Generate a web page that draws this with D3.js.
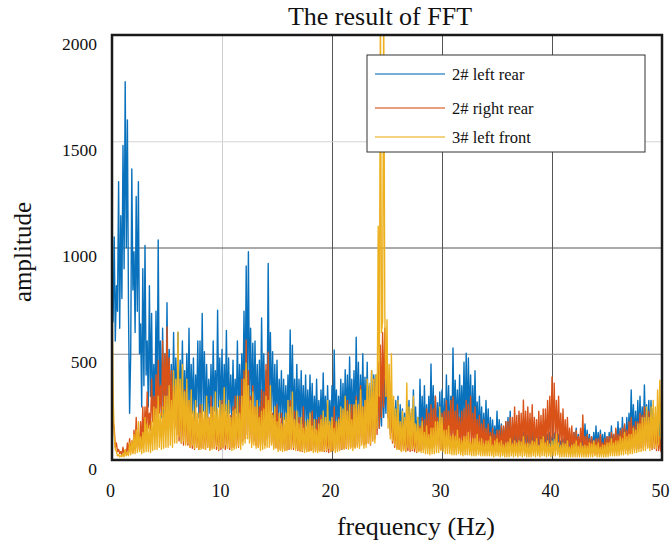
<!DOCTYPE html>
<html>
<head>
<meta charset="utf-8">
<script src="https://cdn.jsdelivr.net/npm/d3@7"></script>
<style>
  html, body { margin: 0; padding: 0; background: #fff; }
  svg text { font-family: "Liberation Serif", "Times New Roman", "DejaVu Serif", serif; fill: #111; }
</style>
</head>
<body>
<svg id="chart" width="671" height="546"></svg>
<script>
// ---------------- data ----------------
const title = "The result of FFT";
const xLabel = "frequency (Hz)";
const yLabel = "amplitude";
const seriesNames = ["2# left rear", "2# right rear", "3# left front"];
const xTicks = [0, 10, 20, 30, 40, 50];
const yTicks = [0, 500, 1000, 1500, 2000];
const freqStep = 0.1; // Hz between samples, 0 .. 50 Hz (one row = 1 Hz)

const leftRear = [
  900, 650, 1050, 560, 820, 700, 1310, 620, 1150, 760,
  1480, 900, 1780, 1000, 1600, 700, 220, 500, 1370, 800,
  980, 600, 1240, 700, 1310, 500, 640, 250, 900, 350,
  1010, 400, 560, 250, 820, 300, 690, 200, 450, 220,
  700, 250, 1035, 300, 560, 200, 620, 180, 500, 200,
  740, 220, 520, 180, 450, 200, 600, 230, 480, 190,
  600, 200, 470, 250, 560, 180, 420, 230, 500, 200,
  620, 180, 450, 220, 480, 170, 400, 250, 560, 200,
  560, 200, 690, 230, 510, 180, 450, 200, 380, 220,
  450, 180, 560, 230, 420, 200, 705, 250, 480, 200,
  520, 200, 450, 230, 610, 180, 480, 220, 400, 180,
  470, 200, 380, 220, 560, 200, 450, 230, 500, 250,
  700, 250, 913, 300, 980, 280, 620, 230, 550, 220,
  560, 200, 450, 180, 470, 210, 668, 250, 500, 200,
  420, 250, 925, 280, 600, 230, 510, 200, 450, 180,
  470, 180, 380, 200, 420, 160, 380, 190, 350, 170,
  400, 180, 612, 200, 540, 170, 380, 150, 450, 180,
  380, 150, 420, 170, 350, 140, 400, 160, 330, 150,
  400, 160, 360, 140, 300, 150, 380, 130, 280, 150,
  330, 140, 410, 160, 300, 130, 350, 150, 280, 140,
  350, 130, 518, 160, 330, 140, 300, 150, 380, 160,
  360, 150, 425, 180, 400, 160, 485, 190, 380, 170,
  420, 180, 578, 200, 460, 170, 400, 190, 500, 180,
  390, 170, 460, 160, 350, 180, 420, 150, 400, 170,
  400, 180, 350, 150, 300, 160, 420, 200, 380, 220,
  485, 200, 380, 150, 300, 130, 250, 110, 280, 120,
  300, 100, 260, 110, 240, 90, 220, 100, 260, 110,
  280, 100, 220, 90, 330, 110, 250, 100, 200, 90,
  380, 120, 300, 100, 350, 130, 260, 110, 300, 120,
  452, 140, 350, 120, 300, 110, 270, 130, 320, 120,
  330, 120, 290, 110, 400, 130, 350, 120, 300, 140,
  527, 160, 376, 150, 330, 140, 400, 160, 350, 150,
  460, 160, 503, 150, 480, 170, 400, 140, 350, 130,
  420, 140, 273, 120, 300, 110, 250, 100, 220, 90,
  280, 90, 240, 80, 200, 70, 188, 80, 160, 70,
  230, 70, 190, 60, 170, 70, 150, 60, 180, 60,
  200, 60, 230, 60, 150, 50, 120, 50, 140, 60,
  210, 60, 160, 50, 130, 50, 170, 60, 120, 50,
  190, 60, 150, 50, 120, 50, 140, 60, 110, 50,
  160, 50, 140, 50, 150, 60, 120, 50, 130, 50,
  110, 45, 127, 50, 100, 45, 120, 50, 90, 40,
  100, 40, 127, 50, 110, 45, 120, 50, 100, 45,
  130, 50, 150, 55, 120, 45, 110, 50, 120, 50,
  170, 60, 140, 55, 120, 50, 110, 45, 130, 50,
  160, 55, 130, 50, 140, 60, 120, 50, 130, 55,
  110, 45, 130, 50, 160, 60, 120, 50, 140, 60,
  180, 70, 150, 60, 200, 80, 160, 70, 200, 80,
  220, 90, 330, 120, 260, 100, 230, 90, 280, 110,
  300, 110, 250, 100, 353, 130, 260, 100, 280, 110,
  280, 100, 240, 90, 200, 80, 170, 70, 200, 80,
  150
];

const rightRear = [
  450, 180, 150, 60, 80, 40, 50, 30, 40, 25,
  60, 30, 45, 25, 80, 35, 100, 40, 90, 35,
  140, 50, 200, 60, 130, 50, 180, 60, 250, 80,
  250, 120, 320, 150, 220, 140, 380, 180, 300, 170,
  400, 200, 470, 220, 350, 210, 560, 240, 500, 220,
  626, 250, 480, 220, 420, 200, 350, 150, 300, 120,
  380, 90, 320, 80, 280, 70, 330, 80, 250, 70,
  280, 60, 240, 55, 200, 50, 220, 60, 170, 50,
  260, 60, 220, 55, 190, 50, 240, 60, 200, 50,
  300, 60, 240, 55, 200, 50, 160, 45, 200, 50,
  280, 60, 220, 50, 190, 55, 220, 50, 210, 60,
  250, 60, 300, 70, 200, 60, 300, 80, 380, 90,
  420, 100, 565, 120, 420, 100, 300, 80, 350, 90,
  250, 70, 280, 60, 250, 70, 330, 80, 320, 70,
  450, 100, 508, 110, 300, 80, 220, 60, 240, 60,
  260, 55, 200, 50, 220, 50, 170, 45, 200, 50,
  220, 50, 280, 55, 190, 50, 230, 55, 170, 45,
  200, 45, 150, 40, 250, 50, 150, 40, 180, 45,
  190, 45, 230, 50, 150, 40, 190, 45, 200, 45,
  210, 45, 150, 40, 180, 40, 130, 35, 160, 40,
  190, 45, 250, 55, 180, 45, 200, 50, 190, 50,
  230, 55, 220, 55, 280, 60, 240, 60, 260, 65,
  250, 60, 300, 70, 240, 65, 350, 80, 250, 70,
  280, 75, 330, 80, 260, 70, 320, 90, 380, 100,
  350, 120, 460, 150, 540, 200, 600, 250, 620, 300,
  540, 200, 380, 120, 250, 80, 180, 60, 170, 55,
  200, 50, 140, 45, 170, 45, 130, 40, 150, 45,
  150, 40, 180, 45, 130, 40, 120, 35, 160, 45,
  160, 45, 200, 50, 190, 55, 240, 60, 220, 55,
  260, 60, 240, 60, 300, 70, 200, 55, 190, 50,
  220, 55, 230, 60, 280, 65, 230, 60, 280, 70,
  297, 70, 230, 60, 260, 65, 200, 55, 230, 60,
  240, 60, 280, 65, 260, 60, 300, 70, 220, 55,
  250, 60, 190, 50, 210, 55, 170, 45, 190, 50,
  150, 45, 170, 45, 130, 40, 150, 45, 120, 40,
  140, 40, 140, 40, 160, 45, 160, 50, 180, 50,
  180, 50, 200, 55, 200, 55, 250, 60, 210, 55,
  230, 60, 220, 55, 282, 70, 230, 60, 250, 65,
  220, 60, 260, 65, 200, 55, 190, 50, 230, 60,
  210, 55, 240, 60, 240, 65, 280, 70, 300, 80,
  391, 100, 362, 90, 280, 80, 300, 75, 220, 60,
  240, 60, 190, 50, 200, 50, 150, 45, 160, 45,
  130, 40, 140, 40, 110, 35, 150, 40, 212, 50,
  110, 35, 120, 35, 100, 30, 110, 35, 90, 30,
  100, 30, 100, 30, 120, 35, 80, 30, 100, 30,
  110, 35, 110, 35, 130, 40, 120, 40, 150, 45,
  120, 40, 140, 45, 150, 45, 170, 50, 140, 45,
  180, 50, 200, 55, 160, 50, 180, 50, 180, 55,
  220, 60, 210, 55, 250, 65, 210, 60, 230, 60,
  180, 50, 200, 55, 150, 45, 170, 45, 110, 40,
  120
];

const leftFront = [
  850, 300, 120, 50, 40, 20, 25, 15, 20, 15,
  30, 15, 50, 20, 35, 20, 80, 25, 90, 30,
  120, 30, 140, 35, 180, 40, 110, 30, 130, 35,
  200, 40, 170, 40, 160, 35, 180, 45, 250, 50,
  240, 50, 300, 60, 220, 50, 250, 55, 300, 60,
  300, 60, 350, 70, 280, 60, 420, 80, 380, 80,
  602, 110, 380, 80, 450, 90, 320, 70, 380, 80,
  280, 60, 330, 70, 230, 55, 280, 60, 220, 50,
  220, 50, 260, 55, 230, 50, 300, 60, 200, 45,
  250, 50, 250, 55, 320, 65, 240, 50, 280, 60,
  260, 55, 340, 70, 260, 55, 280, 60, 200, 45,
  230, 50, 240, 55, 300, 65, 220, 50, 300, 70,
  380, 80, 456, 100, 350, 80, 280, 60, 320, 70,
  250, 55, 280, 60, 200, 45, 230, 50, 240, 55,
  300, 60, 280, 60, 350, 70, 210, 50, 250, 55,
  180, 40, 220, 45, 170, 40, 200, 45, 220, 45,
  280, 55, 250, 50, 320, 60, 190, 45, 230, 50,
  170, 40, 200, 45, 150, 35, 180, 40, 190, 40,
  220, 45, 160, 35, 190, 40, 140, 35, 170, 40,
  190, 40, 230, 45, 200, 45, 280, 55, 180, 40,
  200, 45, 150, 35, 180, 40, 190, 45, 250, 55,
  240, 50, 300, 60, 230, 50, 260, 55, 190, 45,
  260, 55, 280, 60, 260, 55, 330, 70, 250, 55,
  280, 60, 380, 80, 360, 75, 420, 90, 380, 80,
  400, 150, 1100, 300, 2150, 600, 650, 2150, 700, 300,
  660, 150, 450, 100, 500, 90, 300, 70, 240, 50,
  280, 50, 180, 40, 230, 45, 200, 40, 362, 60,
  250, 50, 240, 50, 300, 55, 170, 40, 200, 40,
  150, 35, 180, 35, 130, 30, 160, 30, 120, 25,
  150, 30, 150, 30, 180, 35, 180, 35, 250, 45,
  200, 40, 140, 30, 140, 30, 160, 30, 110, 25,
  120, 25, 110, 25, 140, 30, 100, 25, 90, 20,
  110, 25, 110, 25, 130, 25, 85, 20, 100, 20,
  100, 20, 120, 25, 85, 20, 100, 20, 75, 20,
  90, 20, 90, 20, 110, 20, 70, 15, 90, 20,
  100, 20, 80, 15, 90, 20, 70, 15, 80, 15,
  85, 15, 100, 20, 75, 15, 90, 20, 80, 15,
  90, 20, 85, 15, 110, 20, 75, 15, 80, 15,
  75, 15, 90, 20, 85, 15, 100, 20, 70, 15,
  95, 20, 110, 20, 80, 15, 90, 20, 75, 15,
  90, 20, 95, 20, 120, 25, 80, 15, 70, 15,
  80, 15, 75, 15, 90, 15, 60, 15, 70, 15,
  75, 15, 90, 15, 65, 15, 80, 15, 65, 15,
  70, 15, 65, 15, 80, 15, 75, 15, 90, 20,
  70, 15, 80, 15, 60, 15, 70, 15, 70, 15,
  80, 15, 80, 20, 100, 20, 80, 20, 90, 20,
  90, 20, 110, 25, 100, 25, 130, 30, 110, 25,
  120, 30, 120, 30, 150, 35, 140, 35, 170, 40,
  170, 40, 200, 45, 200, 45, 250, 55, 200, 45,
  250, 55, 280, 60, 250, 55, 330, 70, 376, 100,
  330
];

// ---------------- styles ----------------
const colors = ["#0a72bd", "#d95319", "#edb120"];
const hGridColors = { 500: "#8a8a8a", 1000: "#555", 1500: "#d4d4d4" };
const vGridColors = { 10: "#cfcfcf", 20: "#555", 30: "#555", 40: "#555" };

const svg = d3.select("#chart");
const m = { left: 112, top: 35, right: 662, bottom: 460 };
const W = m.right - m.left, H = m.bottom - m.top;

const x = d3.scaleLinear().domain([0, 50]).range([m.left, m.right]);
const y = d3.scaleLinear().domain([0, 2000]).range([m.bottom, m.top]);

svg.append("defs").append("clipPath").attr("id", "plotclip")
  .append("rect").attr("x", m.left).attr("y", m.top).attr("width", W).attr("height", H);

// grid (via axes)
const gx = svg.append("g").attr("transform", `translate(0,${m.top})`)
  .call(d3.axisTop(x).tickValues(xTicks.filter(t => t > 0 && t < 50)).tickSize(-H).tickFormat(""));
gx.select(".domain").remove();
gx.selectAll(".tick line").attr("stroke", d => vGridColors[d] || "#999").attr("stroke-width", 1);

const gy = svg.append("g").attr("transform", `translate(${m.left},0)`)
  .call(d3.axisLeft(y).tickValues(yTicks.filter(t => t > 0 && t < 2000)).tickSize(-W).tickFormat(""));
gy.select(".domain").remove();
gy.selectAll(".tick line").attr("stroke", d => hGridColors[d] || "#999").attr("stroke-width", 1);

// series
const allSeries = [leftRear, rightRear, leftFront];
const line = d3.line()
  .x((d, i) => x(i * freqStep))
  .y(d => y(d));

const plot = svg.append("g").attr("clip-path", "url(#plotclip)");
allSeries.forEach((s, k) => {
  plot.append("path")
    .datum(s)
    .attr("d", line)
    .attr("fill", "none")
    .attr("stroke", colors[k])
    .attr("stroke-width", 1.4)
    .attr("stroke-linejoin", "round");
});

// frame
svg.append("rect").attr("x", m.left).attr("y", m.top).attr("width", W).attr("height", H)
  .attr("fill", "none").attr("stroke", "#1a1a1a").attr("stroke-width", 2.5);

// axis tick labels
const fmt = d3.format("d");
const ax = svg.append("g").attr("transform", `translate(0,${m.bottom})`)
  .call(d3.axisBottom(x).tickValues(xTicks).tickFormat(fmt).tickSize(0).tickPadding(24));
ax.select(".domain").remove();
ax.selectAll(".tick text").attr("font-size", 18).attr("dx", -2)
  .style("font-family", '"Liberation Serif", "Times New Roman", serif').attr("fill", "#111");

const ay = svg.append("g").attr("transform", `translate(${m.left},0)`)
  .call(d3.axisLeft(y).tickValues(yTicks).tickFormat(fmt).tickSize(0).tickPadding(15));
ay.select(".domain").remove();
ay.selectAll(".tick text").attr("font-size", 17.5).attr("dy", "0.75em").attr("y", 1)
  .style("font-family", '"Liberation Serif", "Times New Roman", serif').attr("fill", "#111");

// title
svg.append("text").attr("x", 380).attr("y", 25).attr("text-anchor", "middle")
  .attr("font-size", 26).text(title);

// x label
svg.append("text").attr("x", 416).attr("y", 535).attr("text-anchor", "middle")
  .attr("font-size", 26).text(xLabel);

// y label
svg.append("text").attr("transform", "translate(31,252) rotate(-90)")
  .attr("text-anchor", "middle").attr("font-size", 25).text(yLabel);

// legend
const lg = svg.append("g");
lg.append("rect").attr("x", 367).attr("y", 55).attr("width", 278).attr("height", 97)
  .attr("fill", "#fff").attr("stroke", "#333").attr("stroke-width", 1);
const rowY = [74, 108, 137];
seriesNames.forEach((n, k) => {
  lg.append("line").attr("x1", 375).attr("x2", 445).attr("y1", rowY[k]).attr("y2", rowY[k])
    .attr("stroke", colors[k]).attr("stroke-width", 1.3).attr("opacity", 0.75);
  lg.append("text").attr("x", 452).attr("y", rowY[k] + 5.5).attr("font-size", 16.5).text(n);
});
</script>
</body>
</html>
